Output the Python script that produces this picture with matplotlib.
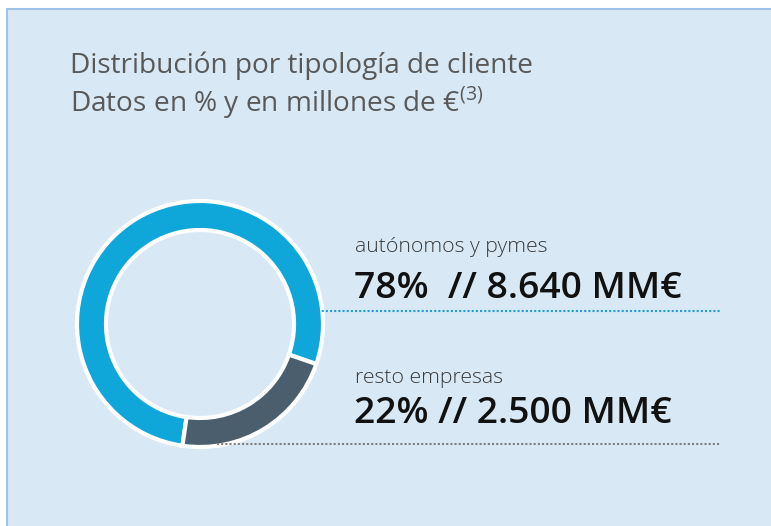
import matplotlib
matplotlib.use("Agg")
import matplotlib.pyplot as plt
from matplotlib.patches import Rectangle

# data
categories = ["autónomos y pymes", "resto empresas"]
shares = [78, 22]
amounts = ["8.640", "2.500"]
title_lines = ["Distribución por tipología de cliente", "Datos en % y en millones de €$^{(3)}$"]

colors = ["#0fa6da", "#4a5e6e"]
line_colors = ["#1e9fd6", "#808080"]

plt.rcParams['font.family'] = ['Open Sans', 'DejaVu Sans']
plt.rcParams['mathtext.fontset'] = 'custom'
plt.rcParams['mathtext.rm'] = 'Open Sans'

W, H = 771, 526
fig = plt.figure(figsize=(W / 100, H / 100), dpi=100)
ax = fig.add_axes([0, 0, 1, 1])

# background panel
ax.add_patch(Rectangle((6.5, -5), W, H - 8.5 + 5, facecolor="#d8e9f5",
                       edgecolor="#9cc3e5", linewidth=1.5, zorder=0))

# donut
cx, cy = 200, H - 324
ax.pie(shares, colors=colors, startangle=-19, counterclock=True,
       radius=123, center=(cx, cy),
       wedgeprops=dict(width=29, edgecolor="white", linewidth=3))

# title
ax.text(70, H - 73, title_lines[0], fontsize=20.2, color="#595959", va="baseline")
ax.text(70, H - 112, title_lines[1], fontsize=20.2, color="#595959", va="baseline")

# labels
label_y = [252, 383]
value_y = [298, 423]
value_txt = ["%d%%  // %s MM€" % (shares[0], amounts[0]),
             "%d%% // %s MM€" % (shares[1], amounts[1])]
line_y = [311, 444]
line_x0 = [305, 217]
for i in range(2):
    ax.text(355, H - label_y[i], categories[i], fontsize=15.3, color="#3a3a3a",
            fontweight="light", va="baseline")
    ax.text(354, H - value_y[i], value_txt[i], fontsize=26.8, color="#111111",
            fontweight="semibold", va="baseline")
    ax.plot([line_x0[i], 720], [H - line_y[i], H - line_y[i]],
            color=line_colors[i], linewidth=1.5, linestyle=(0, (1, 1)), zorder=1)

ax.set_xlim(0, W)
ax.set_ylim(0, H)
ax.set_aspect("auto")
ax.axis("off")
fig.savefig("out.png", dpi=100, facecolor="white")
